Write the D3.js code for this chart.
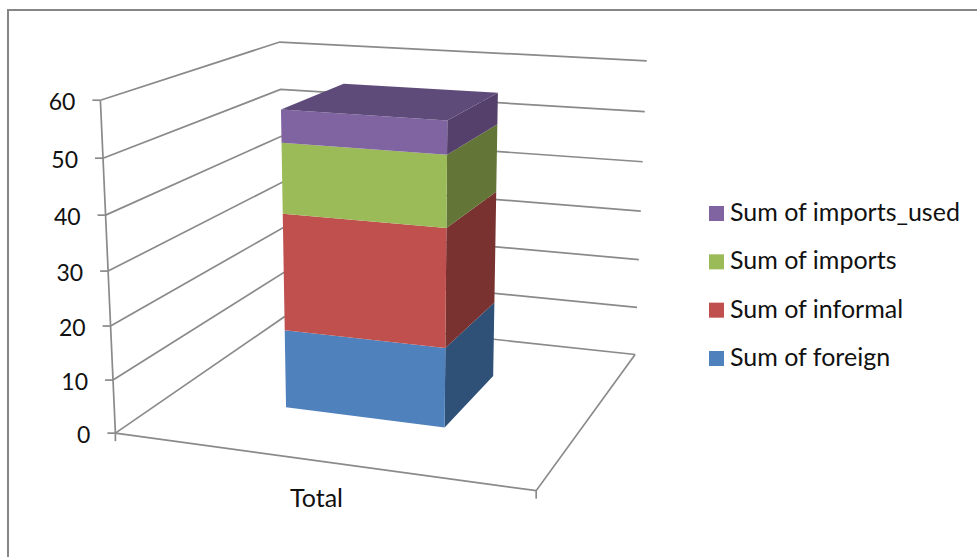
<!DOCTYPE html>
<html>
<head>
<meta charset="utf-8">
<script src="https://cdn.jsdelivr.net/npm/d3@7"></script>
<style>
  html, body { margin: 0; padding: 0; background: #fff; }
  svg { display: block; }
  text { font-family: Lato, "Open Sans", sans-serif; fill: #111; }
</style>
</head>
<body>
<svg id="chart" width="977" height="557"></svg>
<script>
const categories = ['Total']
const seriesNames = ['Sum of foreign', 'Sum of informal', 'Sum of imports', 'Sum of imports_used']
const seriesValues = [15, 22, 13, 6]
const frontColors = ['#4f81bd', '#c0504d', '#9bbb59', '#8064a2']
const sideColors = ['#2f5077', '#7a3230', '#637637', '#54406b']
const topColor = '#5f4b79'
const valueTicks = [0, 10, 20, 30, 40, 50, 60]

// Screen position of the plot box corners, [u, v, w] -> [x, y]. Used to fit the camera.
const boxCorners = [
  [[0, 0, 0], [115, 433]],
  [[1, 0, 0], [536, 491]],
  [[0, 1, 0], [285, 317]],
  [[1, 1, 0], [635, 354]],
  [[0, 0, 1], [101, 100]],
  [[0, 1, 1], [279, 42]],
  [[1, 1, 1], [647, 61]]
]

// Least squares fit of a 3x4 projection matrix (last entry fixed to 1)
function fitCamera (pairs) {
  const rows = []
  const rhs = []
  pairs.forEach(([[u, v, w], [x, y]]) => {
    rows.push([u, v, w, 1, 0, 0, 0, 0, -x * u, -x * v, -x * w]); rhs.push(x)
    rows.push([0, 0, 0, 0, u, v, w, 1, -y * u, -y * v, -y * w]); rhs.push(y)
  })
  const n = 11
  const a = d3.range(n).map(i => d3.range(n + 1).map(j => {
    const col = j < n ? rows.map(r => r[j]) : rhs
    return d3.sum(rows, (r, k) => r[i] * col[k])
  }))
  for (let i = 0; i < n; i++) {
    let best = i
    for (let k = i + 1; k < n; k++) if (Math.abs(a[k][i]) > Math.abs(a[best][i])) best = k
    ;[a[i], a[best]] = [a[best], a[i]]
    for (let k = 0; k < n; k++) {
      if (k === i) continue
      const f = a[k][i] / a[i][i]
      for (let j = i; j <= n; j++) a[k][j] -= f * a[i][j]
    }
  }
  return a.map((r, i) => r[n] / r[i])
}

const m = fitCamera(boxCorners)
function project (u, v, w) {
  const d = m[8] * u + m[9] * v + m[10] * w + 1
  return [(m[0] * u + m[1] * v + m[2] * w + m[3]) / d, (m[4] * u + m[5] * v + m[6] * w + m[7]) / d]
}

const svg = d3.select('#chart')
const path = d3.line()

const valueScale = d3.scaleLinear().domain([0, 60]).range([0, 1])
// gap width 150% like the Excel default
const xBand = d3.scaleBand().domain(categories).range([0, 1]).paddingInner(0.6).paddingOuter(0.3)
const depthBand = d3.scaleBand().domain(['front']).range([0, 1]).paddingInner(0.6).paddingOuter(0.3)

// Outer frame of the chart area (only top and left survive the crop)
svg.append('path').attr('d', 'M8,557V10H977').attr('fill', 'none').attr('stroke', '#868686').attr('stroke-width', 2)

const axisColor = '#8a8a8a'
const axisWidth = 1.7
function drawPoly (points, attrs) {
  const p = svg.append('path').attr('d', path(points.map(q => project(q[0], q[1], q[2]))))
  Object.keys(attrs).forEach(k => p.attr(k, attrs[k]))
  return p
}
const lineAttrs = { fill: 'none', stroke: axisColor, 'stroke-width': axisWidth }

// Gridlines on both walls, plus floor outline
valueTicks.forEach(t => {
  const w = valueScale(t)
  drawPoly([[0, 0, w], [0, 1, w], [1, 1, w]], lineAttrs)
})
drawPoly([[0, 0, 0], [0, 0, 1]], lineAttrs)
drawPoly([[0, 0, 0], [1, 0, 0], [1, 1, 0]], lineAttrs)

// Tick marks
valueTicks.forEach(t => {
  const [x, y] = project(0, 0, valueScale(t))
  svg.append('path').attr('d', path([[x - 8, y], [x, y]])).attr('fill', 'none').attr('stroke', axisColor).attr('stroke-width', axisWidth)
  svg.append('text')
    .attr('x', x - 25)
    .attr('y', y + 1.5)
    .attr('dy', '0.35em')
    .attr('text-anchor', 'end')
    .attr('font-size', 23)
    .text(t)
})
;[[0, 0, 0], [1, 0, 0]].forEach(c => {
  const [x, y] = project(c[0], c[1], c[2])
  svg.append('path').attr('d', path([[x, y], [x, y + 8]])).attr('fill', 'none').attr('stroke', axisColor).attr('stroke-width', axisWidth)
})

// Stacked bar
const stack = d3.stack().keys(d3.range(seriesValues.length))([seriesValues])
const u0 = xBand('Total')
const u1 = u0 + xBand.bandwidth()
const v0 = depthBand('front')
const v1 = v0 + depthBand.bandwidth()
stack.forEach((layer, i) => {
  const w0 = valueScale(layer[0][0])
  const w1 = valueScale(layer[0][1])
  drawPoly([[u1, v0, w0], [u1, v1, w0], [u1, v1, w1], [u1, v0, w1], [u1, v0, w0]], { fill: sideColors[i] })
  drawPoly([[u0, v0, w0], [u1, v0, w0], [u1, v0, w1], [u0, v0, w1], [u0, v0, w0]], { fill: frontColors[i] })
  if (i === stack.length - 1) {
    drawPoly([[u0, v0, w1], [u1, v0, w1], [u1, v1, w1], [u0, v1, w1], [u0, v0, w1]], { fill: topColor })
  }
})

// Category label
svg.append('text').attr('x', 316.5).attr('y', 507).attr('text-anchor', 'middle').attr('font-size', 25).text(categories[0])

// Legend, top entry is the last series
const legendY = d3.scalePoint().domain(seriesNames.slice().reverse()).range([206, 351])
seriesNames.forEach((name, i) => {
  svg.append('rect').attr('x', 709).attr('y', legendY(name)).attr('width', 15).attr('height', 15).attr('fill', frontColors[i])
  svg.append('text').attr('x', 730).attr('y', legendY(name) + 15).attr('font-size', 25).text(name)
})
</script>
</body>
</html>
